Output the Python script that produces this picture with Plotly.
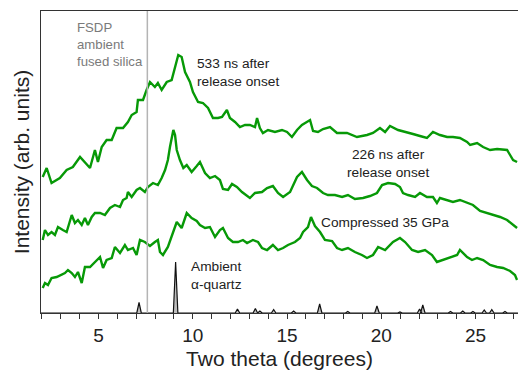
import plotly.graph_objects as go

# ---- data (two theta in degrees, intensity in arbitrary units) ----
t533_x = [2.04, 2.25, 2.51, 2.95, 3.31, 3.64, 4.02, 4.28, 4.55, 4.81, 4.97, 5.17, 5.43, 5.70, 5.96, 6.30, 6.56, 6.76, 7.02, 7.09,
          7.36, 7.55, 7.73, 7.99, 8.15, 8.35, 8.62, 8.88, 9.15, 9.23, 9.41, 9.59, 9.85, 10.01, 10.28, 10.54, 10.81, 11.07, 11.34, 11.55,
          11.81, 11.97, 12.24, 12.50, 12.77, 13.03, 13.30, 13.41, 13.56, 13.72, 13.99, 14.36, 14.73, 15.00, 15.26, 15.53, 15.79, 16.06, 16.22, 16.38,
          16.64, 16.91, 17.28, 17.65, 18.18, 18.71, 19.24, 19.56, 19.93, 20.20, 20.46, 20.89, 21.36, 21.68, 22.05, 22.42, 22.74, 23.11, 23.49, 23.80,
          24.17, 24.55, 24.71, 25.08, 25.40, 25.77, 26.14, 26.46, 26.67, 26.83, 26.99, 27.20]
t533_y = [136, 145, 130, 135, 143, 146, 156, 151, 145, 163, 151, 166, 173, 173, 185, 185, 191, 198, 201, 213,
          213, 223, 231, 226, 230, 223, 231, 233, 253, 258, 256, 241, 231, 221, 211, 210, 205, 195, 195, 196,
          203, 195, 191, 186, 188, 188, 186, 195, 185, 180, 183, 181, 183, 181, 176, 183, 188, 191, 193, 182,
          181, 184, 186, 180, 180, 176, 178, 180, 185, 181, 187, 183, 181, 179, 177, 175, 181, 178, 176, 176,
          175, 171, 168, 170, 166, 163, 164, 163, 163, 158, 153, 151]

t226_x = [2.04, 2.16, 2.32, 2.51, 2.69, 2.85, 3.11, 3.31, 3.58, 3.75, 3.91, 4.11, 4.28, 4.44, 4.64, 4.81, 5.08, 5.34, 5.61, 5.87,
          6.14, 6.30, 6.49, 6.56, 6.76, 7.02, 7.20, 7.46, 7.62, 7.89, 8.15, 8.35, 8.53, 8.68, 8.79, 8.97, 9.06, 9.15, 9.32, 9.50,
          9.68, 9.94, 10.21, 10.38, 10.65, 10.91, 11.18, 11.44, 11.60, 11.87, 12.08, 12.34, 12.61, 12.82, 13.03, 13.30, 13.67, 13.94, 14.25, 14.52,
          14.79, 15.16, 15.53, 15.79, 16.06, 16.32, 16.59, 16.91, 17.17, 17.54, 17.92, 18.23, 18.60, 19.03, 19.40, 19.77, 20.04, 20.36, 20.73, 20.99,
          21.15, 21.42, 21.79, 22.05, 22.42, 22.74, 22.95, 23.11, 23.49, 23.80, 24.17, 24.55, 24.86, 25.24, 25.61, 25.93, 26.30, 26.67, 26.99, 27.20]
t226_y = [73, 83, 78, 81, 78, 86, 83, 81, 98, 90, 93, 88, 95, 88, 96, 100, 100, 98, 105, 108,
          106, 113, 115, 121, 116, 123, 125, 121, 126, 130, 128, 135, 143, 153, 166, 183, 178, 163, 153, 145,
          148, 141, 147, 151, 140, 135, 137, 133, 124, 123, 129, 126, 121, 118, 115, 120, 121, 125, 127, 120,
          116, 121, 136, 141, 133, 127, 125, 120, 118, 118, 116, 118, 114, 115, 117, 120, 128, 130, 129, 126,
          120, 118, 116, 120, 116, 116, 110, 115, 113, 111, 113, 110, 108, 102, 100, 98, 96, 93, 88, 85]

c35_x = [2.04, 2.16, 2.32, 2.51, 2.78, 3.05, 3.22, 3.38, 3.58, 3.75, 3.91, 4.11, 4.28, 4.55, 4.81, 5.08, 5.24, 5.43, 5.70, 5.87,
         6.14, 6.40, 6.56, 6.83, 7.02, 7.20, 7.46, 7.73, 7.99, 8.15, 8.26, 8.42, 8.68, 8.95, 9.15, 9.41, 9.68, 9.94, 10.21, 10.38,
         10.65, 10.91, 11.18, 11.44, 11.60, 11.87, 12.13, 12.40, 12.66, 12.88, 13.19, 13.46, 13.67, 13.94, 14.25, 14.52, 14.79, 15.05, 15.42, 15.69,
         15.85, 16.11, 16.27, 16.48, 16.75, 17.01, 17.39, 17.65, 17.92, 18.23, 18.60, 18.97, 19.24, 19.56, 19.83, 20.20, 20.62, 20.99, 21.26, 21.63,
         21.95, 22.32, 22.69, 22.95, 23.27, 23.64, 24.02, 24.17, 24.55, 24.81, 25.08, 25.40, 25.77, 26.14, 26.46, 26.83, 27.09, 27.20]
c35_y = [25, 30, 28, 35, 36, 38, 40, 43, 40, 36, 41, 30, 46, 46, 51, 56, 45, 53, 55, 66,
         60, 68, 63, 65, 58, 73, 71, 67, 71, 73, 61, 58, 66, 81, 91, 85, 100, 95, 92, 88,
         85, 86, 76, 83, 85, 75, 71, 71, 73, 70, 73, 71, 65, 63, 68, 63, 65, 68, 71, 75,
         81, 86, 96, 87, 81, 73, 72, 65, 63, 65, 61, 58, 55, 58, 66, 63, 71, 75, 71, 63,
         61, 63, 58, 51, 53, 56, 58, 63, 56, 53, 55, 53, 48, 46, 45, 42, 38, 33]

quartz_pos = [7.15, 9.09, 12.37, 13.32, 13.56, 14.29, 15.35, 16.73, 18.22, 19.77, 20.99, 22.03, 22.20,
              23.67, 24.32, 24.86, 25.46, 25.86, 26.56]
quartz_h = [10.5, 51, 4, 4.5, 2, 3.5, 2, 9, 1.5, 7, 1, 4, 8, 1.5, 2, 1.5, 3, 3.5, 1.5]

fsdp_pos = 7.59
x_range = [1.95, 27.25]
y_range = [0, 302]
major_ticks = [5, 10, 15, 20, 25]

# ---- build quartz stick profile from peak list ----
hw = 0.12
qx, qy = [x_range[0]], [0]
for p, h in zip(quartz_pos, quartz_h):
    qx += [p - hw, p, p + hw]
    qy += [0, h, 0]
qx.append(x_range[1])
qy.append(0)

GREEN = "#079907"
FONT = "Liberation Sans, Arial, sans-serif"

fig = go.Figure()
fig.add_trace(go.Scatter(x=qx, y=qy, mode="lines", fill="tozeroy",
                         fillcolor="#bdbdbd", line=dict(color="#111111", width=1.2),
                         hoverinfo="skip"))
for xs, ys in [(c35_x, c35_y), (t226_x, t226_y), (t533_x, t533_y)]:
    fig.add_trace(go.Scatter(x=xs, y=ys, mode="lines",
                             line=dict(color=GREEN, width=2.4)))

fig.add_shape(type="line", x0=fsdp_pos, x1=fsdp_pos, y0=0, y1=1, yref="paper",
              line=dict(color="#b4b4b4", width=1.5))

ann = [
    dict(x=3.74, y=269, size=13.2, text="FSDP<br>ambient<br>fused silica", color="#7a7a7a", xanchor="left", align="left"),
    dict(x=10.12, y=241, size=13.7, text="533 ns after<br>release onset", color="#222222", xanchor="left", align="left"),
    dict(x=20.35, y=150, size=13.7, text="226 ns after<br>release onset", color="#222222", xanchor="center", align="center"),
    dict(x=16.7, y=91, size=13.7, text="Compressed 35 GPa", color="#222222", xanchor="left", align="left"),
    dict(x=9.8, y=38, size=13.7, text="Ambient<br>α-quartz", color="#222222", xanchor="left", align="left"),
]
for a in ann:
    fig.add_annotation(x=a["x"], y=a["y"], text=a["text"], showarrow=False,
                       xanchor=a["xanchor"], yanchor="middle", align=a["align"],
                       font=dict(family=FONT, size=a["size"], color=a["color"]))

fig.update_layout(
    width=518, height=371,
    margin=dict(l=41, r=0, t=11, b=58),
    paper_bgcolor="white", plot_bgcolor="white",
    showlegend=False,
    font=dict(family=FONT, color="#222222"),
    xaxis=dict(range=x_range, tickvals=major_ticks, ticks="outside", ticklen=5,
               tickcolor="#333333", showline=True, linecolor="#333333", linewidth=1,
               mirror=True, showgrid=False, zeroline=False,
               tickfont=dict(family=FONT, size=19, color="#222222"),
               minor=dict(dtick=1, tick0=0, ticks="outside", ticklen=5, tickcolor="#333333", showgrid=False),
               title=dict(text="Two theta (degrees)", font=dict(family=FONT, size=21, color="#222222"), standoff=6)),
    yaxis=dict(range=y_range, showticklabels=False, ticks="", showline=True,
               linecolor="#333333", linewidth=1, showgrid=False, zeroline=False,
               title=dict(text="Intensity (arb. units)", font=dict(family=FONT, size=21, color="#222222"), standoff=4)),
)

fig.write_html("out.html")
